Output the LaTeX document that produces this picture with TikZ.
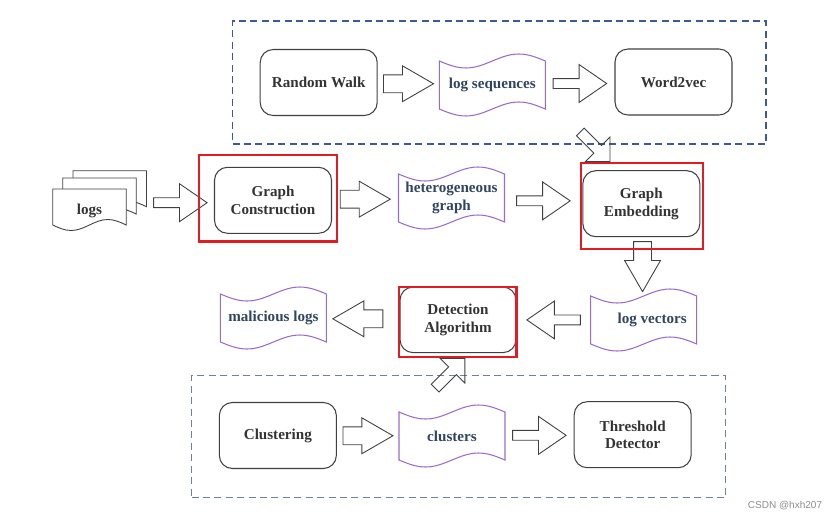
\documentclass[tikz,border=0pt]{standalone}
\usepackage{fontspec}
\setmainfont{Liberation Serif}
\newfontfamily\wmfont{Liberation Sans}
\usetikzlibrary{shapes.arrows}
\definecolor{boxline}{HTML}{404040}
\definecolor{boxtext}{HTML}{333333}
\definecolor{wavline}{HTML}{9B6BC8}
\definecolor{wavtext}{HTML}{2F4560}
\definecolor{frameline}{HTML}{3D5A96}
\definecolor{framelight}{HTML}{6E7FA0}
\definecolor{hilite}{HTML}{E31B23}
\newcommand{\wavebox}[1]{\draw[wavline, line width=.6pt] (#1.north west) sin ++(.53,-.14) cos ++(.53,.14) sin ++(.53,.14) cos ++(.53,-.14) -- (#1.south east) sin ++(-.53,.14) cos ++(-.53,-.14) sin ++(-.53,-.14) cos ++(-.53,.14) -- cycle;}
\newcommand{\logpage}[1]{\filldraw[fill=white, draw=boxline, line width=.5pt] #1 -- ++(1.47,0) -- ++(0,-.72) sin ++(-.3675,.11) cos ++(-.3675,-.11) sin ++(-.3675,-.11) cos ++(-.3675,.11) -- cycle;}
\begin{document}
\begin{tikzpicture}[
  rbox/.style={draw=boxline, line width=.6pt, rounded corners=.26cm, minimum width=2.34cm, minimum height=1.32cm, text=boxtext, align=center, font=\bfseries\fontsize{8.6}{10}\selectfont},
  wavenode/.style={minimum width=2.12cm, minimum height=.96cm, inner sep=0, outer sep=0, text=wavtext, align=center, font=\bfseries\fontsize{8.6}{10}\selectfont},
  redbox/.style={draw=hilite, line width=1.3pt, inner sep=0},
  dashframe/.style={draw=frameline, line width=.6pt, dash pattern=on 4pt off 2.5pt, inner sep=0},
  arr/.style={single arrow, draw=black!75, fill=white, line width=.5pt, inner sep=0, outer sep=0, anchor=tip},
  fatarr/.style={arr, inner ysep=.17cm, single arrow head extend=.18cm, single arrow tip angle=60, minimum height=1cm},
  thinarr/.style={arr, inner ysep=.09cm, single arrow head extend=.28cm, single arrow tip angle=69, minimum height=1.07cm},
  fatR/.style={xshift=.5cm, fatarr},
  fatL/.style={xshift=-.5cm, fatarr, rotate=180},
  fatD/.style={yshift=-.5cm, fatarr, rotate=-90},
  thinR/.style={xshift=.535cm, thinarr},
  thinL/.style={xshift=-.535cm, thinarr, rotate=180},
  bentarr/.style={arr, fill=none, inner ysep=.1cm, single arrow head extend=.24cm, single arrow tip angle=90, minimum height=.84cm}
]
\useasboundingbox (0,0) rectangle (16.78,10.44);

\node[dashframe, minimum width=10.67cm, minimum height=2.46cm] (upper) at (9.985,8.79) {};
\node[dashframe, draw=framelight, minimum width=10.68cm, minimum height=2.43cm] (lower) at (9.17,1.707) {};

\node[rbox] (rw) at (6.374,8.79) {Random Walk};
\node[wavenode] (ls) at (9.846,8.74) {log sequences};
\node[rbox] (w2v) at (13.47,8.80) {Word2vec};

\logpage{(1.46,7.026)}
\logpage{(1.254,6.88)}
\logpage{(1.054,6.66)}
\node[text=boxtext, font=\bfseries\fontsize{8.6}{10}\selectfont] (logs) at (1.79,6.22) {logs};
\coordinate (stack) at (2.934,6.386);
\node[rbox] (gc) at (5.46,6.434) {Graph\\Construction};
\node[wavenode] (het) at (9.03,6.48) {heterogeneous\\graph};
\node[rbox] (ge) at (12.827,6.366) {Graph\\Embedding};

\node[wavenode] (mal) at (5.468,4.08) {malicious logs};
\node[rbox, minimum width=2.32cm, minimum height=1.31cm] (da) at (9.16,4.043) {Detection\\Algorithm};
\node[wavenode] (lv) at (12.874,4.04) {\hspace*{.34cm}log vectors};

\node[rbox] (clu) at (5.557,1.73) {Clustering};
\node[wavenode] (cls) at (9.04,1.72) {clusters};
\node[rbox] (td) at (12.654,1.746) {Threshold\\Detector};

\wavebox{ls}
\wavebox{het}
\wavebox{mal}
\wavebox{lv}
\wavebox{cls}

\path (rw.east) -- node[fatR] (a1) {} (ls.west);
\path (ls.east) -- node[thinR] (a2) {} (w2v.west);
\path (stack) -- node[thinR] (a3) {} (stack -| gc.west);
\path (gc.east) -- node[fatR] (a4) {} (het.west);
\path (het.east) -- node[thinR] (a5) {} (ge.west);
\path (ge.south) -- node[fatD] (a6) {} (lv.north);
\path (lv.west) -- node[thinL] (a7) {} (da.east);
\path (da.west) -- node[fatL, pos=.57] (a8) {} (mal.east);
\path (clu.east) -- node[fatR] (a9) {} (cls.west);
\path (cls.east) -- node[thinR] (a10) {} (td.west);

\node[redbox, minimum width=2.75cm, minimum height=1.73cm] (gcr) at (5.36,6.473) {};
\node[redbox, minimum width=2.45cm, minimum height=1.73cm] (ger) at (12.84,6.32) {};
\node[redbox, minimum width=2.35cm, minimum height=1.41cm] (dar) at (9.157,4.0) {};

\node[bentarr, rotate=-45] (b1) at ([xshift=-.64cm]ger.north) {};
\node[bentarr, rotate=45] (b2) at ([xshift=.14cm]dar.south) {};

\node[font=\wmfont\fontsize{5.7}{7}\selectfont, text=black!45] (wm) at (15.7,.33) {CSDN @hxh207};
\end{tikzpicture}
\end{document}
